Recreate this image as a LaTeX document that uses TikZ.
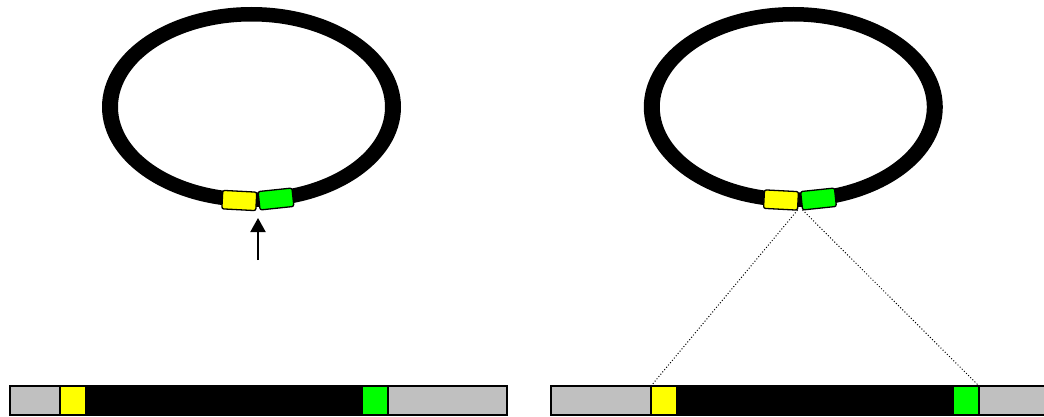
\documentclass[tikz,border=0pt]{standalone}
\usetikzlibrary{arrows.meta}
\definecolor{segGray}{HTML}{C0C0C0}
\definecolor{segYellow}{HTML}{FFFF00}
\definecolor{segGreen}{HTML}{00FF00}
\tikzset{
  ring/.style={fill=black, even odd rule},
  ringbox/.style={draw=black, line width=1.3pt, rounded corners=2pt, minimum width=34pt, minimum height=18.5pt, inner sep=0pt, outer sep=0pt},
  seg/.style={draw=black, line width=1.4pt, minimum height=29pt, inner sep=0pt, outer sep=0pt, anchor=west},
  zoomline/.style={dotted, line width=1pt},
  pointer/.style={line width=2pt, -{Triangle[width=15pt,length=14pt]}}
}
\begin{document}
\begin{tikzpicture}[x=1pt,y=-1pt]
\path[use as bounding box] (0,0) rectangle (1044,417);
% left ring
\fill[ring] (251.5,107) ellipse [x radius=149.5, y radius=100]
                        (251.5,107) ellipse [x radius=133.5, y radius=85.5];
\node[ringbox, fill=segYellow, rotate=-3] (ly) at (239.3,200.5) {};
\node[ringbox, fill=segGreen, rotate=6] (lg) at (276,199) {};
\coordinate (atail) at (258,260);
\coordinate (ahead) at (258,218);
\draw[pointer] (atail) -- (ahead);
% right ring
\fill[ring] (793.3,107) ellipse [x radius=149.5, y radius=100]
                        (793.3,107) ellipse [x radius=133.5, y radius=85.5];
\node[ringbox, fill=segYellow, rotate=-3] (ry) at (781,200) {};
\node[ringbox, fill=segGreen, rotate=6] (rg) at (818.5,199) {};
% left bar
\node[seg, fill=segGray, minimum width=50pt] (lb1) at (10,400.5) {};
\node[seg, fill=segYellow, minimum width=26pt] (lb2) at (60,400.5) {};
\node[seg, fill=black, minimum width=276pt] (lb3) at (86,400.5) {};
\node[seg, fill=segGreen, minimum width=26pt] (lb4) at (362,400.5) {};
\node[seg, fill=segGray, minimum width=119pt] (lb5) at (388,400.5) {};
% right bar
\node[seg, fill=segGray, minimum width=100pt] (rb1) at (551,400.5) {};
\node[seg, fill=segYellow, minimum width=26pt] (rb2) at (651,400.5) {};
\node[seg, fill=black, minimum width=276pt] (rb3) at (677,400.5) {};
\node[seg, fill=segGreen, minimum width=26pt] (rb4) at (953,400.5) {};
\node[seg, fill=segGray, minimum width=70pt] (rb5) at (979,400.5) {};
% zoom lines
\draw[zoomline] (ry.south east) -- (rb2.north west);
\draw[zoomline] (rg.south west) -- (rb4.north east);
\end{tikzpicture}
\end{document}
